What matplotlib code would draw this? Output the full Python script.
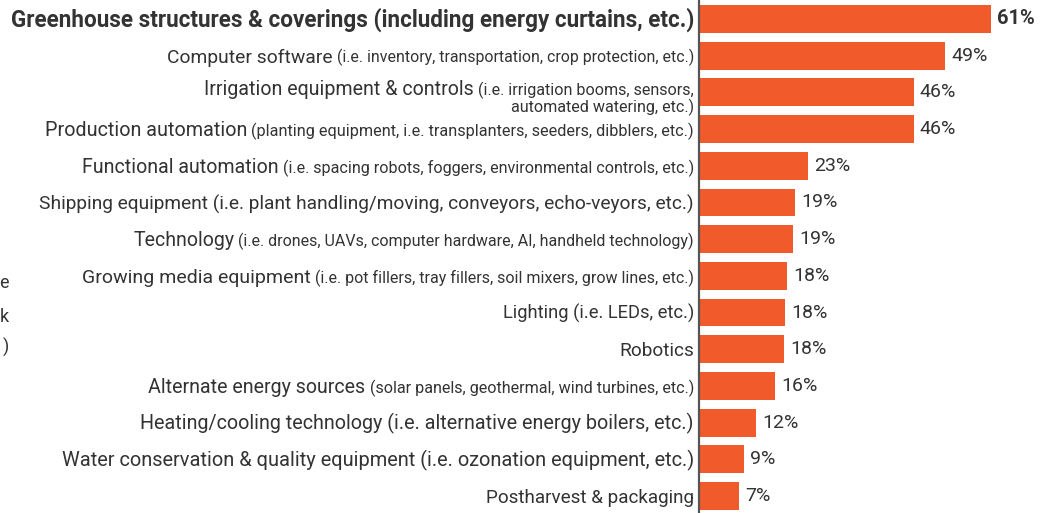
import matplotlib
matplotlib.use("Agg")
import matplotlib.pyplot as plt
import matplotlib.transforms as mtransforms

# ---------------- data ----------------
label_main = [
    "Greenhouse structures & coverings (including energy curtains, etc.)",
    "Computer software",
    "Irrigation equipment & controls",
    "Production automation",
    "Functional automation",
    "Shipping equipment (i.e. plant handling/moving, conveyors, echo-veyors, etc.)",
    "Technology",
    "Growing media equipment",
    "Lighting (i.e. LEDs, etc.)",
    "Robotics",
    "Alternate energy sources",
    "Heating/cooling technology (i.e. alternative energy boilers, etc.)",
    "Water conservation & quality equipment (i.e. ozonation equipment, etc.)",
    "Postharvest & packaging",
]
label_detail = [
    "",
    "(i.e. inventory, transportation, crop protection, etc.)",
    "(i.e. irrigation booms, sensors,\nautomated watering, etc.)",
    "(planting equipment, i.e. transplanters, seeders, dibblers, etc.)",
    "(i.e. spacing robots, foggers, environmental controls, etc.)",
    "",
    "(i.e. drones, UAVs, computer hardware, AI, handheld technology)",
    "(i.e. pot fillers, tray fillers, soil mixers, grow lines, etc.)",
    "",
    "",
    "(solar panels, geothermal, wind turbines, etc.)",
    "",
    "",
    "",
]
pct_labels = [61, 49, 46, 46, 23, 19, 19, 18, 18, 18, 16, 12, 9, 7]
# bar lengths as drawn in the picture (percent scale)
bar_values = [61.0, 51.4, 44.9, 44.9, 22.8, 20.1, 19.6, 18.4, 18.0, 17.8, 15.9, 11.9, 9.4, 8.4]

# target left edge (px) of each label, used to fit font size
label_left_px = [10, 167, 205, 44, 83, 40, 133, 83, 503, 620, 148, 140, 63, 486]

# ---------------- style ----------------
W, H = 1051, 513
BAR = "#F15A2B"
TXT = "#333333"
FONT = ["Roboto", "DejaVu Sans"]
plt.rcParams["font.family"] = FONT

fig = plt.figure(figsize=(W / 100, H / 100), dpi=100)
ax_left = 699 / W
ax = fig.add_axes([ax_left, 0, 1 - ax_left, 1])

n = len(bar_values)
ypos = list(range(n))
ax.barh(ypos, bar_values, height=0.76, color=BAR, zorder=2)
px_per_unit = 4.787
ax.set_xlim(0, (W - 699) / px_per_unit)
spacing_px = (496 - 19) / 13
ax.set_ylim(n - 1 + 17 / spacing_px, -19 / spacing_px)
for s in ["top", "right", "bottom"]:
    ax.spines[s].set_visible(False)
ax.spines["left"].set_color("#555555")
ax.spines["left"].set_linewidth(1.6)
ax.set_xticks([])
ax.set_yticks([])

# value labels
for i, (v, p) in enumerate(zip(bar_values, pct_labels)):
    ax.text(v, i, f"{p}%", va="center", ha="left",
            fontsize=14.5 if i == 0 else 14,
            color=TXT, fontweight="bold" if i == 0 else "normal",
            transform=ax.transData + mtransforms.ScaledTranslation(6 / 100, 0, fig.dpi_scale_trans))

# category labels (mixed sizes)
renderer = fig.canvas.get_renderer()
trans_base = mtransforms.blended_transform_factory(fig.transFigure, ax.transData)
right_x = 694 / W
main_size0 = 13.0
ratio_small = 0.82

for i in range(n):
    main = label_main[i]
    det = label_detail[i]
    bold = (i == 0)
    det_lines = det.split("\n") if det else []
    two_line = len(det_lines) > 1

    def draw(scale):
        ms = main_size0 * scale
        ss = ms * ratio_small
        if two_line:
            base = -ms * 0.14
        else:
            base = -ms * 0.36
        tr = mtransforms.offset_copy(trans_base, fig=fig, x=0, y=base, units="points")
        arts = []
        small_w = 0
        if det_lines:
            t1 = fig.text(right_x, i, det_lines[0], ha="right", va="baseline",
                          fontsize=ss, color=TXT, transform=tr)
            arts.append(t1)
            small_w = t1.get_window_extent(renderer).width
            if two_line:
                tr2 = mtransforms.offset_copy(trans_base, fig=fig, x=0,
                                              y=base - ss * 1.05, units="points")
                t2 = fig.text(right_x, i, det_lines[1], ha="right", va="baseline",
                              fontsize=ss, color=TXT, transform=tr2)
                arts.append(t2)
        gap = ss * 0.25 * fig.dpi / 72 if det_lines else 0
        tm = fig.text(right_x - (small_w + gap) / W, i, main, ha="right", va="baseline",
                      fontsize=ms, color=TXT, fontweight="bold" if bold else "normal",
                      transform=tr)
        arts.append(tm)
        left = tm.get_window_extent(renderer).x0
        return arts, left

    # fit the label so its left edge lands where it is in the reference
    scale = 1.0
    for _ in range(3):
        arts, left = draw(scale)
        total = right_x * W - left
        target = right_x * W - label_left_px[i]
        for a in arts:
            a.remove()
        scale *= target / total
    draw(scale)

# fragments of cut-off text at the left edge
for yy, ch in [(283, "e"), (317, "k"), (347, ")")]:
    fig.text(9 / W, 1 - yy / H, ch, ha="right", va="center", fontsize=13, color=TXT)

fig.savefig("out.png", dpi=100)
